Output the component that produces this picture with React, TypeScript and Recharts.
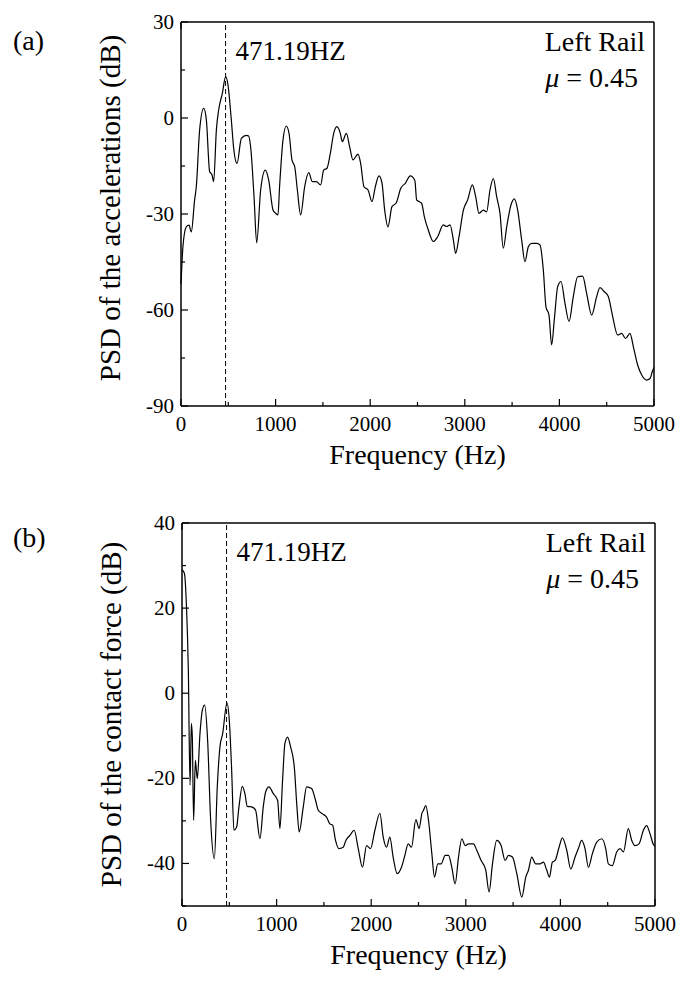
import React from 'react';
import { LineChart, Line, XAxis, YAxis, ReferenceLine } from 'recharts';

// (a) PSD of the rail accelerations
const freqA = [
  0, 21, 56, 85, 109, 144, 162, 197, 240, 268, 303, 328, 345, 374, 398, 437, 472, 497, 532, 557,
  592, 638, 691, 715, 736, 772, 800, 842, 891, 927, 973, 1001, 1025, 1042, 1078, 1113, 1142, 1173,
  1202, 1230, 1265, 1307, 1350, 1388, 1431, 1476, 1508, 1543, 1579, 1614, 1649, 1684, 1705, 1748,
  1783, 1818, 1871, 1899, 1934, 1977, 2019, 2054, 2093, 2125, 2153, 2188, 2230, 2276, 2322, 2371,
  2424, 2472, 2491, 2516, 2544, 2572, 2614, 2667, 2713, 2773, 2808, 2844, 2879, 2903, 2939, 2985,
  3030, 3080, 3115, 3150, 3196, 3231, 3266, 3302, 3337, 3372, 3407, 3443, 3488, 3524, 3559, 3601,
  3636, 3672, 3707, 3760, 3795, 3830, 3858, 3890, 3918, 3946, 3982, 4017, 4059, 4102, 4147, 4193,
  4246, 4288, 4341, 4394, 4429, 4475, 4517, 4560, 4616, 4658, 4700, 4746, 4782, 4827, 4870, 4922,
  4958, 4982, 5000,
];
const psdA = [
  -52, -40, -34, -33.5, -35.6, -25.6, -21.4, -3.7, 3, -0.6, -16.8, -17.8, -19.9, -3.7, 2.5, 7.7,
  12.9, 10.3, -0.6, -9.5, -14.2, -6.4, -5.4, -5.6, -9, -24.6, -39, -22.5, -16.3, -19.4, -28.8,
  -29.8, -30.3, -21.5, -6.9, -2.5, -4.8, -13.1, -15.2, -22.5, -30.3, -21.5, -17.1, -19.9, -19.9,
  -20.9, -16.3, -15.7, -11, -4.8, -2.7, -4.8, -7.4, -4.8, -9, -13.1, -11.3, -14.2, -21.5, -22.5,
  -26.1, -21.5, -18.1, -20.4, -28.8, -34, -27.7, -26.5, -22, -20.4, -18.1, -19.5, -25.6, -26.1,
  -26.7, -30.8, -35, -38.6, -37.1, -33.4, -33.9, -33.4, -38.1, -42.3, -37.1, -28.8, -25.6, -20.9,
  -24.6, -29.8, -28.8, -29.3, -22.5, -18.9, -24.6, -29.8, -40.7, -34, -27.2, -25.3, -28.8, -38.1,
  -44.9, -40.2, -39.2, -39.2, -39.7, -47.5, -59, -61.6, -70.9, -63.1, -52.7, -51.1, -57.9, -63.6,
  -55.8, -49.6, -49.4, -54.8, -61.6, -55.8, -53, -54.3, -55.8, -61.6, -67.8, -67.3, -68.9, -67.3,
  -71.5, -77.2, -80.3, -81.9, -81.4, -79.3, -78,
];

// (b) PSD of the wheel/rail contact force
const freqB = [
  0, 25, 46, 67, 85, 99, 109, 123, 141, 162, 190, 215, 239, 271, 303, 342, 373, 401, 430, 475,
  500, 525, 549, 577, 602, 637, 665, 690, 736, 778, 824, 859, 884, 919, 965, 1011, 1035, 1063,
  1088, 1116, 1148, 1187, 1215, 1239, 1282, 1317, 1370, 1412, 1440, 1482, 1528, 1563, 1592, 1623,
  1658, 1704, 1732, 1775, 1820, 1863, 1908, 1951, 1993, 2039, 2092, 2127, 2162, 2197, 2232, 2275,
  2320, 2356, 2391, 2426, 2472, 2507, 2535, 2553, 2577, 2606, 2641, 2669, 2704, 2739, 2782, 2817,
  2852, 2887, 2923, 2958, 2993, 3028, 3081, 3116, 3162, 3211, 3246, 3282, 3327, 3373, 3415, 3451,
  3493, 3539, 3592, 3634, 3662, 3697, 3739, 3785, 3820, 3856, 3884, 3915, 3944, 3986, 4021, 4067,
  4109, 4155, 4190, 4225, 4260, 4296, 4338, 4384, 4437, 4479, 4507, 4549, 4595, 4630, 4666, 4718,
  4754, 4789, 4831, 4877, 4912, 4947, 4982, 5000,
];
const psdB = [
  29, 28.2, 21.1, 5.4, -21.6, -7.1, -10.3, -29.9, -15.8, -20.1, -9.5, -4, -2.8, -11.1, -29.9,
  -38.9, -22, -12.6, -9.5, -2.3, -6.4, -18.1, -32.2, -31.5, -26.7, -21.9, -23.6, -26.6, -26.7,
  -27.5, -34.2, -26.7, -23.2, -22, -23.6, -25.2, -31.8, -20.5, -11.8, -10.3, -12.6, -17.3, -26.7,
  -32.6, -26.7, -22, -22.4, -25.2, -27.5, -28.3, -29.1, -30.7, -31, -34.6, -36.5, -36.2, -34.6,
  -33.4, -32.2, -36.5, -40.9, -35.8, -36.5, -32.2, -28.2, -33.8, -36.2, -33.8, -38.5, -42.4,
  -40.9, -38.1, -35.4, -36.2, -29.7, -31.8, -28.3, -27.5, -26.4, -29.9, -37.7, -43.2, -40.1,
  -40.1, -38.1, -38.1, -40.9, -44.8, -38.5, -34.2, -35.8, -35.4, -35.4, -36.9, -39.3, -41.6,
  -46.7, -40.1, -34.6, -35.8, -39.3, -38.1, -38.5, -42.4, -47.9, -43.2, -41.6, -38.5, -40.1,
  -40.1, -39.7, -41.6, -43.2, -39.7, -39.3, -36.2, -34, -36.9, -41.3, -38.5, -36.5, -34.6, -36.5,
  -40.9, -37.7, -35, -34.2, -36.5, -40.1, -40.5, -37.3, -36.5, -37.3, -31.8, -34.6, -35.8, -35.4,
  -32.2, -31.1, -33, -35.5, -36,
];

const freqTicks = [0, 500, 1000, 1500, 2000, 2500, 3000, 3500, 4000, 4500, 5000];
const accTicks = [-90, -75, -60, -45, -30, -15, 0, 15, 30];
const forceTicks = [-50, -40, -30, -20, -10, 0, 10, 20, 30, 40];
const peakFreq = 471.19;

// Times-like face, with DejaVu Serif as a visible serif fallback
const FACE = "'Liberation Serif', 'Times New Roman', Times, 'DejaVu Serif', serif";
const serif = (size: number): React.CSSProperties => ({ fontFamily: FACE, fontSize: size });
const INK = '#000';

const BottomTick = (p: any) => {
  const { x, y, payload } = p;
  const major = payload.value % 1000 === 0;
  return (
    <g>
      <line x1={x} y1={y} x2={x} y2={y - (major ? 7 : 4)} stroke={INK} strokeWidth={1.2} />
      {major ? (
        <text x={x} y={y + 25} textAnchor="middle" style={serif(21)} fill={INK}>
          {payload.value}
        </text>
      ) : null}
    </g>
  );
};

const TopTick = (p: any) => {
  const { x, y, payload } = p;
  const major = payload.value % 1000 === 0;
  return <line x1={x} y1={y} x2={x} y2={y + (major ? 7 : 4)} stroke={INK} strokeWidth={1.2} />;
};

const LeftTick = (p: any) => {
  const { x, y, payload, step } = p;
  const major = payload.value % step === 0;
  return (
    <g>
      <line x1={x} y1={y} x2={x + (major ? 7 : 4)} y2={y} stroke={INK} strokeWidth={1.2} />
      {major ? (
        <text x={x - 7} y={y + 7} textAnchor="end" style={serif(21)} fill={INK}>
          {payload.value}
        </text>
      ) : null}
    </g>
  );
};

const RightTick = (p: any) => {
  const { x, y, payload, step } = p;
  const major = payload.value % step === 0;
  return <line x1={x} y1={y} x2={x - (major ? 7 : 4)} y2={y} stroke={INK} strokeWidth={1.2} />;
};

type PanelProps = {
  freq: number[];
  psd: number[];
  yDomain: [number, number];
  yTicks: number[];
  step: number;
  yTitle: string;
  tag: string;
  tagDy: number;
  titleShift: number;
  top: number;
  height: number;
  margin: { top: number; right: number; bottom: number; left: number };
};

// axis boxes: left 70 wide, bottom 60 high, top/right 1px so that they still render
const Panel = ({ freq, psd, yDomain, yTicks, step, yTitle, tag, tagDy, titleShift, top, height, margin }: PanelProps) => {
  const data = freq.map((f, i) => ({ f, v: psd[i] }));

  const xTitle = (p: any) => {
    const vb = p.viewBox;
    return (
      <text x={vb.x + vb.width / 2} y={vb.y + 57.5} textAnchor="middle" style={serif(28)} fill={INK}>
        Frequency (Hz)
      </text>
    );
  };

  const yTitleLabel = (p: any) => {
    const vb = p.viewBox;
    const cx = vb.x + vb.width - 61;
    const cy = vb.y + vb.height / 2 + titleShift;
    return (
      <text transform={`translate(${cx}, ${cy}) rotate(-90)`} textAnchor="middle" style={serif(29)} fill={INK}>
        {yTitle}
      </text>
    );
  };

  const corner = (p: any) => {
    const vb = p.viewBox;
    const right = vb.x + vb.width;
    const y0 = vb.y + vb.height;
    return (
      <g fill={INK}>
        <text x={13} y={y0 + tagDy} style={serif(28)}>{tag}</text>
        <text x={right - 9} y={y0 + 28.5} textAnchor="end" style={serif(28)}>Left Rail</text>
        <text x={right - 16} y={y0 + 65} textAnchor="end" style={serif(28)}>
          <tspan fontStyle="italic">μ</tspan> = 0.45
        </text>
      </g>
    );
  };

  const peakLabel = (p: any) => {
    const vb = p.viewBox;
    return (
      <text x={vb.x + 10} y={vb.y + 38} style={serif(27)} fill={INK}>
        471.19HZ
      </text>
    );
  };

  const axisLine = { stroke: INK, strokeWidth: 1.5 };

  return (
    <div style={{ position: 'absolute', left: 0, top }}>
      <LineChart width={677} height={height} data={data} margin={margin}>
        <XAxis
          dataKey="f"
          type="number"
          domain={[0, 5000]}
          ticks={freqTicks}
          interval={0}
          height={60}
          tickSize={0}
          tickMargin={0}
          tickLine={false}
          axisLine={axisLine}
          tick={BottomTick}
          label={{ content: xTitle }}
        />
        <XAxis
          xAxisId="top"
          orientation="top"
          type="number"
          domain={[0, 5000]}
          ticks={freqTicks}
          interval={0}
          height={1}
          tickSize={0}
          tickMargin={0}
          tickLine={false}
          axisLine={axisLine}
          tick={TopTick}
          label={{ content: corner }}
        />
        <YAxis
          type="number"
          domain={yDomain}
          ticks={yTicks}
          interval={0}
          width={70}
          tickSize={0}
          tickMargin={0}
          tickLine={false}
          axisLine={axisLine}
          allowDataOverflow
          tick={(p: any) => <LeftTick {...p} step={step} />}
          label={{ content: yTitleLabel }}
        />
        <YAxis
          yAxisId="right"
          orientation="right"
          type="number"
          domain={yDomain}
          ticks={yTicks}
          interval={0}
          width={1}
          tickSize={0}
          tickMargin={0}
          tickLine={false}
          axisLine={axisLine}
          tick={(p: any) => <RightTick {...p} step={step} />}
        />
        <ReferenceLine x={peakFreq} stroke={INK} strokeWidth={1} strokeDasharray="5 3" label={{ content: peakLabel }} />
        <Line dataKey="v" type="monotone" stroke={INK} strokeWidth={1.2} dot={false} isAnimationActive={false} />
      </LineChart>
    </div>
  );
}

export default function App() {
  return (
    <div style={{ position: 'absolute', left: 0, top: 0, width: 677, height: 981, background: '#fff' }}>
      <Panel
        freq={freqA}
        psd={psdA}
        yDomain={[-90, 30]}
        yTicks={accTicks}
        step={30}
        yTitle="PSD of the accelerations (dB)"
        tag="(a)"
        tagDy={28}
        titleShift={-6}
        top={0}
        height={490}
        margin={{ top: 21, right: 22, bottom: 24, left: 111 }}
      />
      <Panel
        freq={freqB}
        psd={psdB}
        yDomain={[-50, 40]}
        yTicks={forceTicks}
        step={20}
        yTitle="PSD of the contact force (dB)"
        tag="(b)"
        tagDy={24}
        titleShift={0}
        top={490}
        height={491}
        margin={{ top: 32, right: 21, bottom: 15, left: 112 }}
      />
    </div>
  );
}
